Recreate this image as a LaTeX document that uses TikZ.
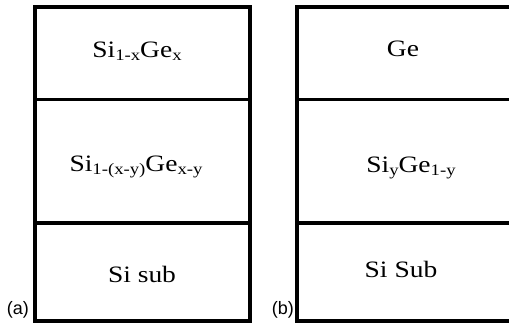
\documentclass[tikz,border=0pt]{standalone}
\usepackage{fontspec}
\setmainfont{Liberation Serif}
\newfontfamily\labelfont{Liberation Sans}
\newcommand\lowidx[1]{\raisebox{-3pt}{\fontsize{16}{16}\selectfont #1}}
\newcommand\widetext[1]{\scalebox{1.17}[1]{#1}}
\tikzset{
  frame/.style={draw=black, line width=4pt},
  divider/.style={draw=black, line width=3.5pt},
  layertext/.style={anchor=base, inner sep=0pt, font=\fontsize{23.5}{23.5}\selectfont},
  panellabel/.style={anchor=base east, inner sep=0pt, font=\labelfont\fontsize{18}{18}\selectfont}
}
\begin{document}
\begin{tikzpicture}[x=1pt, y=1pt]
  \useasboundingbox (0,0) rectangle (509,327);
  \begin{scope}
    \clip (0,0) rectangle (509,327);
    % panel (a): graded buffer stack
    \draw[frame] (35,6) rectangle (250,319.7);
    \draw[divider] (35,227.5) -- (250,227.5);
    \draw[divider] (35,104) -- (250,104);
    % panel (b): Ge on SiGe stack
    \draw[frame] (297,6) rectangle (513,319.7);
    \draw[divider] (297,227.5) -- (513,227.5);
    \draw[divider] (297,104) -- (513,104);
  \end{scope}

  \node[layertext] (a1) at (137,269.3) {\widetext{Si\lowidx{1-x}Ge\lowidx{x}}};
  \node[layertext] (a2) at (136,155.3) {\widetext{Si\lowidx{1-(x-y)}Ge\lowidx{x-y}}};
  \node[layertext] (a3) at (142,45) {\widetext{Si sub}};

  \node[layertext] (b1) at (403,270) {\widetext{Ge}};
  \node[layertext] (b2) at (411,154) {\widetext{Si\lowidx{y}Ge\lowidx{1-y}}};
  \node[layertext] (b3) at (401,49) {\widetext{Si Sub}};

  \node[panellabel] (la) at (29,13) {(a)};
  \node[panellabel] (lb) at (294,13) {(b)};
\end{tikzpicture}
\end{document}
